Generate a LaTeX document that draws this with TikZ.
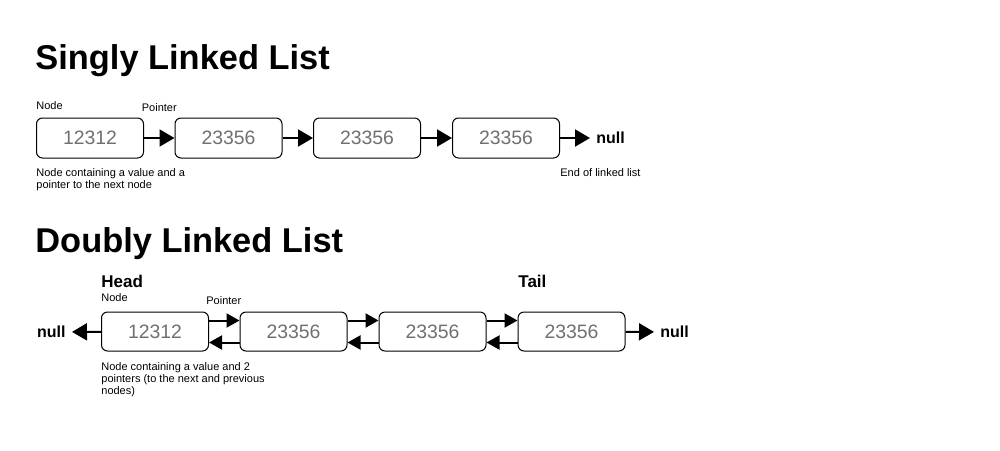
\documentclass[tikz,border=0pt]{standalone}
\usepackage{fontspec}
\setmainfont{Liberation Sans}
\usetikzlibrary{arrows.meta}
\definecolor{valgray}{HTML}{707070}
\begin{document}
\begin{tikzpicture}[x=0.5pt,y=-0.5pt,
	box/.style={draw=black,line width=0.5pt,rounded corners=3pt,minimum width=53.5pt,minimum height=20pt,inner sep=0pt,text=valgray,font=\fontsize{9.7}{11}\selectfont},
	dbox/.style={box,minimum height=19.5pt},
	ptr/.style={line width=1pt,-{Triangle[length=7.5pt,width=8.5pt]}},
	dptr/.style={line width=1pt,-{Triangle[length=6.5pt,width=7pt]}},
	title/.style={anchor=base west,inner sep=0pt,font=\fontsize{17.2}{20}\bfseries\selectfont},
	hd/.style={anchor=base west,inner sep=0pt,font=\fontsize{8.5}{10}\bfseries\selectfont},
	lbl/.style={anchor=base west,inner sep=0pt,font=\fontsize{5.5}{6}\selectfont,align=left},
	nulltxt/.style={inner sep=3pt,font=\fontsize{8}{9}\bfseries\selectfont}]
		\useasboundingbox (0,0) rectangle (1000,450);
		
		% singly linked list
		\node[title] (t1) at (35,69) {Singly Linked List};
		\node[lbl] (snode) at (36,109) {Node};
		\node[lbl] (sptr) at (141.5,111) {Pointer};
		\node[box] (s1) at (90,138) {12312};
		\node[box] (s2) at (228.5,138) {23356};
		\node[box] (s3) at (367,138) {23356};
		\node[box] (s4) at (506,138) {23356};
		\node[nulltxt,anchor=west] (sn) at (590,138) {null};
		\node[lbl,anchor=north west] (sdesc) at (36,168) {Node containing a value and a\\pointer to the next node};
		\node[lbl] (send) at (560,176) {End of linked list};
		
		\draw[ptr] (s1) -- (s2);
		\draw[ptr] (s2) -- (s3);
		\draw[ptr] (s3) -- (s4);
		\draw[ptr] (s4) -- (sn);
		
		% doubly linked list
		\node[title] (t2) at (35,252) {Doubly Linked List};
		\node[hd] (head) at (101,287) {Head};
		\node[hd] (tail) at (518,287) {Tail};
		\node[lbl] (dnode) at (101,301) {Node};
		\node[lbl] (dptr) at (206,304) {Pointer};
		\node[dbox] (d1) at (155,331.5) {12312};
		\node[dbox] (d2) at (293.5,331.5) {23356};
		\node[dbox] (d3) at (432.5,331.5) {23356};
		\node[dbox] (d4) at (571.5,331.5) {23356};
		\node[nulltxt,anchor=east] (dn0) at (72,332) {null};
		\node[nulltxt,anchor=west] (dn4) at (654,332) {null};
		\node[lbl,anchor=north west] (ddesc) at (101,362) {Node containing a value and 2\\pointers (to the next and previous\\nodes)};
		
		\draw[dptr] ([yshift=5.5pt]d1.east) -- ([yshift=5.5pt]d2.west);
		\draw[dptr] ([yshift=5.5pt]d2.east) -- ([yshift=5.5pt]d3.west);
		\draw[dptr] ([yshift=5.5pt]d3.east) -- ([yshift=5.5pt]d4.west);
		\draw[dptr] ([yshift=-5.5pt]d2.west) -- ([yshift=-5.5pt]d1.east);
		\draw[dptr] ([yshift=-5.5pt]d3.west) -- ([yshift=-5.5pt]d2.east);
		\draw[dptr] ([yshift=-5.5pt]d4.west) -- ([yshift=-5.5pt]d3.east);
		\draw[ptr] (d1) -- (dn0);
		\draw[ptr] (d4) -- (dn4);
\end{tikzpicture}
\end{document}
